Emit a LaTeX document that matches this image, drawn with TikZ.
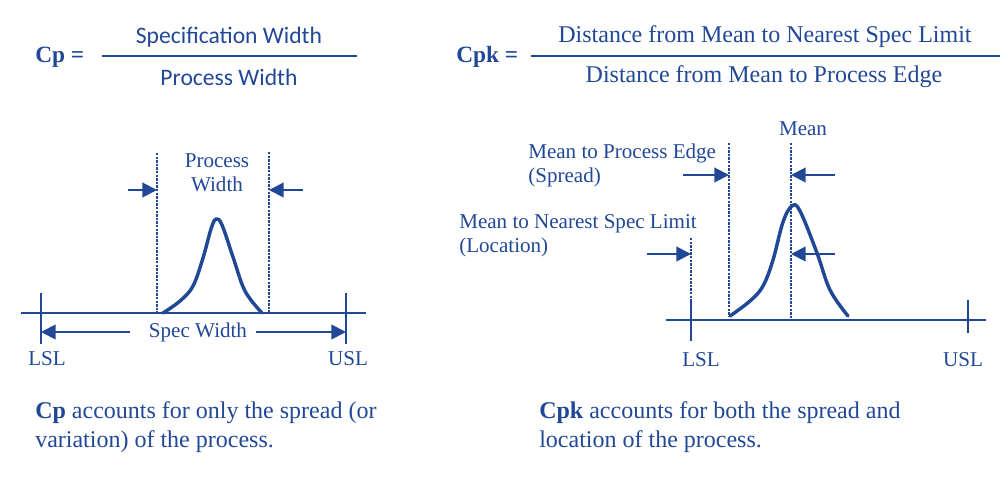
\documentclass[tikz,border=0pt]{standalone}
\usepackage{fontspec}
\setmainfont{Liberation Serif}
\newfontfamily\calibrifont{Carlito}
\usetikzlibrary{arrows.meta, positioning, calc}
\definecolor{cpblue}{RGB}{33,72,150}
\tikzset{
  lbl/.style={text=cpblue, inner sep=0pt, font=\fontsize{15.8}{18}\selectfont},
  eqlbl/.style={text=cpblue, inner sep=0pt, font=\fontsize{18}{22}\selectfont},
  eqsans/.style={text=cpblue, inner sep=0pt, font=\calibrifont\fontsize{17.7}{22}\selectfont},
  eqname/.style={text=cpblue, inner sep=0pt, font=\bfseries\fontsize{17.5}{20}\selectfont},
  note/.style={text=cpblue, inner sep=0pt, align=left, font=\fontsize{18}{22}\selectfont},
  axis/.style={cpblue, line width=1.5pt},
  fracline/.style={cpblue, line width=2pt},
  limline/.style={cpblue, line width=1.3pt, dash pattern=on 1.8pt off 0.9pt},
  curve/.style={cpblue, line width=2.6pt, line cap=round, line join=round},
  arrow/.style={-{Triangle[length=11pt, width=11pt]}, cpblue, line width=1.5pt}
}

\begin{document}
\begin{tikzpicture}[x=0.75pt, y=-0.75pt]
  \useasboundingbox (0,0) rectangle (1007,484);

  % Cp formula
  \node[eqname, anchor=west] (cp) at (35,57) {Cp =};
  \coordinate (cpfl) at (102,56);
  \coordinate (cpfr) at (357,56);
  \draw[fracline] (cpfl) -- (cpfr);
  \node[eqsans] (cpnum) at (229,37) {Specification Width};
  \node[eqsans] (cpden) at (229,77) {Process Width};

  % Cpk formula
  \node[eqname, anchor=west] (cpk) at (456,57) {Cpk =};
  \coordinate (cpkfl) at (531,56);
  \coordinate (cpkfr) at (1000,56);
  \draw[fracline] (cpkfl) -- (cpkfr);
  \node[eqlbl] (cpknum) at (765,37) {Distance from Mean to Nearest Spec Limit};
  \node[eqlbl] (cpkden) at (764,77) {Distance from Mean to Process Edge};

  % Cp picture
  \coordinate (axl) at (21,313);
  \coordinate (axr) at (366,313);
  \coordinate (lsla) at (41,313);
  \coordinate (usla) at (346,313);
  \draw[axis] (axl) -- (axr);
  \draw[axis] ([yshift=15pt]lsla) -- ([yshift=-23pt]lsla);
  \draw[axis] ([yshift=15pt]usla) -- ([yshift=-23pt]usla);
  \node[lbl] (lsla-lbl) at (47,359) {LSL};
  \node[lbl] (usla-lbl) at (348,359) {USL};

  \node[lbl] (specw) at (198,332) {Spec Width};
  \draw[arrow] ($(specw.west)+(-19,0)$) -- (lsla |- specw);
  \draw[arrow] ($(specw.east)+(9,0)$) -- (usla |- specw);

  \coordinate (pwl) at (157,153);
  \coordinate (pwr) at (269,152);
  \draw[limline] (pwl) -- (pwl |- axl);
  \draw[limline] (pwr) -- (pwr |- axl);
  \node[lbl, align=center] (pw) at (217,173) {Process\\Width};
  \coordinate (pwal) at (128,190);
  \coordinate (pwar) at (303,190);
  \draw[arrow] (pwal) -- (pwal -| pwl);
  \draw[arrow] (pwar) -- (pwar -| pwr);

  \draw[curve] plot[smooth, tension=0.6] coordinates {(163,313) (180,301) (193,286)
    (203,258) (211,229) (216,219) (222,225) (233,257) (245,291) (262,313)};

  % Cpk picture
  \coordinate (bxl) at (666,320);
  \coordinate (bxr) at (986,320);
  \coordinate (lslb) at (691,320);
  \coordinate (uslb) at (968,320);
  \draw[axis] (bxl) -- (bxr);
  \draw[axis] ([yshift=15pt]lslb) -- ([yshift=-16pt]lslb);
  \draw[axis] ([yshift=15pt]uslb) -- ([yshift=-10pt]uslb);
  \node[lbl] (lslb-lbl) at (701,360) {LSL};
  \node[lbl] (uslb-lbl) at (963,360) {USL};

  \coordinate (lim) at (691,238);
  \coordinate (edge) at (729,143);
  \coordinate (mean) at (791,143);
  \draw[limline] (lim) -- (lim |- bxl);
  \draw[limline] (edge) -- ([yshift=3pt]edge |- bxl);
  \draw[limline] (mean) -- (mean |- bxl);
  \node[lbl] (mean-lbl) at (803,129) {Mean};

  \node[lbl, align=left, anchor=west] (spread) at (528,165) {Mean to Process Edge\\(Spread)};
  \node[lbl, align=left, anchor=west] (location) at (459,236) {Mean to Nearest Spec Limit\\(Location)};

  \coordinate (sprl) at (683,175);
  \coordinate (sprr) at (835,175);
  \coordinate (locl) at (647,254);
  \coordinate (locr) at (835,254);
  \draw[arrow] (sprl) -- (sprl -| edge);
  \draw[arrow] (sprr) -- (sprr -| mean);
  \draw[arrow] (locl) -- (locl -| lim);
  \draw[arrow] (locr) -- (locr -| mean);

  \draw[curve] plot[smooth, tension=0.6] coordinates {(730,316) (750,301) (763,286)
    (773,260) (783,222) (792,206) (800,211) (817,253) (830,290) (848,316)};

  % notes
  \node[note, anchor=base west] (cpnote) at (35,448)
    {\textbf{Cp} accounts for only the spread (or\\variation) of the process.};
  \node[note, anchor=base west] (cpknote) at (539,448)
    {\textbf{Cpk} accounts for both the spread and\\location of the process.};
\end{tikzpicture}
\end{document}
